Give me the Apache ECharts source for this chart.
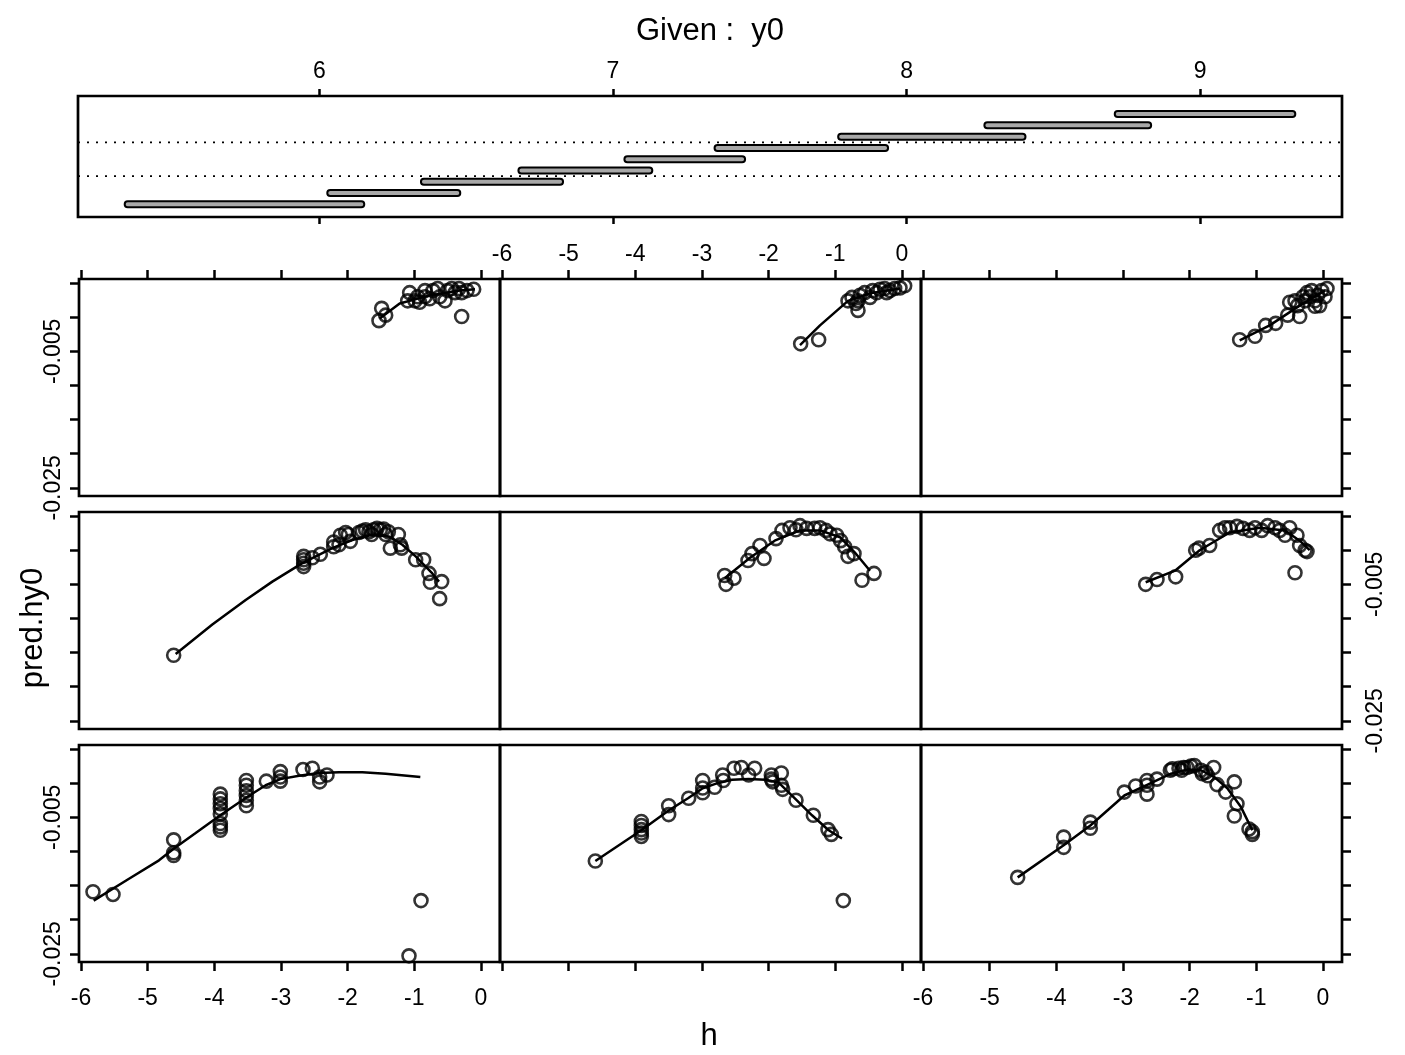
<!DOCTYPE html>
<html>
<head>
<meta charset="utf-8">
<script src="https://cdn.jsdelivr.net/npm/echarts@6/dist/echarts.min.js"></script>
<style>
html,body{margin:0;padding:0;background:#fff;}
#chart{width:1405px;height:1055px;}
</style>
</head>
<body>
<div id="chart"></div>
<script>
// ---- data ----
const givenIntervals = [[5.337,6.153],[6.027,6.480],[6.346,6.830],[6.678,7.134],[7.039,7.450],[7.346,7.937],[7.767,8.405],[8.265,8.833],[8.709,9.324]];
const givenTicks = [6,7,8,9];
const xTicks = [-6,-5,-4,-3,-2,-1,0];
const yTicks = [0.005,0,-0.005,-0.01,-0.015,-0.02,-0.025];
const yLabelValues = [-0.005,-0.025];

const p1H = [-5.82,-5.52,-4.61,-4.61,-4.61,-3.91,-3.91,-3.91,-3.91,-3.91,-3.91,-3.91,-3.91,-3.52,-3.52,-3.52,-3.52,-3.52,-3.52,-3.22,-3.01,-3.01,-3.01,-2.67,-2.53,-2.42,-2.42,-2.31,-0.90,-1.08];
const p1Y = [-0.0159,-0.0163,-0.0083,-0.0102,-0.0106,-0.0016,-0.0023,-0.0030,-0.0037,-0.0045,-0.0059,-0.0064,-0.0069,0.0004,-0.0003,-0.0011,-0.0018,-0.0025,-0.0033,0.0003,0.0017,0.0009,0.0003,0.0020,0.0022,0.0009,0.0002,0.0012,-0.0172,-0.0253];
const fit1H = [-5.81,-5.28,-4.83,-4.61,-4.28,-3.91,-3.52,-3.23,-3.01,-2.73,-2.43,-2.13,-1.78,-1.43,-0.91];
const fit1Y = [-0.0172,-0.0140,-0.0113,-0.0096,-0.0073,-0.0047,-0.0021,-0.0003,0.0006,0.0011,0.0015,0.0016,0.0016,0.0014,0.0009];

const p2H = [-4.60,-3.91,-3.91,-3.91,-3.91,-3.91,-3.50,-3.50,-3.20,-2.99,-2.99,-2.99,-2.81,-2.69,-2.68,-2.52,-2.41,-2.30,-2.21,-1.96,-1.96,-1.94,-1.81,-1.81,-1.79,-1.59,-1.33,-1.11,-1.06,-0.88];
const p2Y = [-0.0114,-0.0056,-0.0062,-0.0068,-0.0073,-0.0078,-0.0033,-0.0046,-0.0022,0.0004,-0.0007,-0.0014,-0.0006,0.0012,0.0004,0.0022,0.0023,0.0012,0.0022,0.0012,0.0006,0.0002,0.0015,-0.0003,-0.0009,-0.0025,-0.0047,-0.0068,-0.0075,-0.0172];
const fit2H = [-4.60,-3.91,-3.50,-3.21,-3.00,-2.80,-2.55,-2.30,-2.05,-1.85,-1.60,-1.35,-1.10,-0.90];
const fit2Y = [-0.0114,-0.0069,-0.0040,-0.0022,-0.0008,-0.0001,0.0005,0.0006,0.0005,0.0001,-0.0023,-0.0047,-0.0069,-0.0081];

const p3H = [-4.58,-3.89,-3.89,-3.49,-3.49,-2.98,-2.81,-2.64,-2.64,-2.64,-2.49,-2.29,-2.26,-2.16,-2.12,-2.09,-2.04,-1.98,-1.93,-1.83,-1.81,-1.76,-1.73,-1.64,-1.59,-1.46,-1.33,-1.29,-1.33,-1.11,-1.06,-1.06];
const p3Y = [-0.0138,-0.0079,-0.0094,-0.0057,-0.0066,-0.0013,-0.0004,0.0004,-0.0003,-0.0016,0.0006,0.0019,0.0021,0.0022,0.0019,0.0023,0.0023,0.0025,0.0026,0.0019,0.0014,0.0016,0.0011,0.0023,-0.0002,-0.0013,0.0002,-0.0030,-0.0048,-0.0067,-0.0071,-0.0075];
const fit3H = [-4.58,-3.89,-3.49,-2.98,-2.63,-2.28,-2.03,-1.83,-1.63,-1.43,-1.23,-1.06];
const fit3Y = [-0.0138,-0.0091,-0.0062,-0.0018,-0.0002,0.0014,0.0020,0.0019,0.0009,-0.0008,-0.0035,-0.0069];

const p4H = [-4.61,-2.66,-2.66,-2.66,-2.66,-2.53,-2.41,-2.21,-2.21,-2.13,-2.11,-2.03,-1.99,-1.96,-1.83,-1.78,-1.73,-1.68,-1.64,-1.61,-1.56,-1.51,-1.46,-1.43,-1.39,-1.36,-1.24,-1.21,-1.19,-0.98,-0.86,-0.78,-0.76,-0.59,-0.62];
const p4Y = [-0.0154,-0.0009,-0.0014,-0.0019,-0.0024,-0.0011,-0.0006,0.0012,0.0005,0.0008,0.0022,0.0026,0.0023,0.0013,0.0026,0.0028,0.0030,0.0027,0.0023,0.0030,0.0032,0.0030,0.0031,0.0023,0.0027,0.0003,0.0023,0.0008,0.0003,-0.0014,-0.0014,-0.0034,-0.0047,-0.0046,-0.0071];
const fit4H = [-4.58,-4.03,-3.53,-3.13,-2.68,-2.23,-1.93,-1.63,-1.38,-1.18,-0.98,-0.73,-0.63];
const fit4Y = [-0.0152,-0.0109,-0.0073,-0.0046,-0.0019,0.0003,0.0015,0.0023,0.0020,0.0008,-0.0009,-0.0034,-0.0046];

const p5H = [-2.66,-2.64,-2.52,-2.31,-2.25,-2.13,-2.07,-1.89,-1.80,-1.68,-1.59,-1.53,-1.43,-1.31,-1.23,-1.14,-1.08,-0.98,-0.92,-0.86,-0.81,-0.72,-0.60,-0.42];
const p5Y = [-0.0037,-0.0050,-0.0041,-0.0015,-0.0005,0.0007,-0.0012,0.0017,0.0029,0.0033,0.0030,0.0036,0.0032,0.0032,0.0033,0.0029,0.0024,0.0022,0.0014,0.0005,-0.0009,-0.0005,-0.0044,-0.0034];
const fit5H = [-2.66,-2.28,-1.91,-1.53,-1.23,-0.93,-0.71,-0.48];
const fit5Y = [-0.0041,-0.0011,0.0014,0.0029,0.0029,0.0019,-0.0003,-0.0030];

const p6H = [-2.66,-2.49,-2.21,-1.91,-1.86,-1.70,-1.55,-1.47,-1.40,-1.29,-1.20,-1.10,-1.02,-0.92,-0.83,-0.72,-0.65,-0.57,-0.50,-0.39,-0.35,-0.27,-0.24,-0.42];
const p6Y = [-0.0050,-0.0043,-0.0039,0.0000,0.0003,0.0007,0.0029,0.0033,0.0033,0.0035,0.0032,0.0029,0.0033,0.0029,0.0036,0.0033,0.0029,0.0022,0.0033,0.0022,0.0007,0.0000,-0.0002,-0.0033];
const fit6H = [-2.66,-2.22,-1.85,-1.40,-0.95,-0.57,-0.35,-0.20];
const fit6Y = [-0.0047,-0.0030,0.0000,0.0026,0.0033,0.0029,0.0014,0.0000];

const p7H = [-1.53,-1.49,-1.43,-1.10,-1.07,-0.99,-0.92,-0.84,-0.77,-0.72,-0.65,-0.62,-0.54,-0.50,-0.44,-0.39,-0.33,-0.29,-0.21,-0.11,-0.29,-0.84,-0.95];
const p7Y = [-0.0005,0.0013,0.0003,0.0024,0.0036,0.0024,0.0022,0.0039,0.0027,0.0039,0.0042,0.0030,0.0024,0.0039,0.0042,0.0036,0.0042,0.0036,0.0039,0.0041,0.0001,0.0030,0.0030];
const fit7H = [-1.52,-1.22,-0.77,-0.32,-0.09];
const fit7Y = [-0.0002,0.0020,0.0032,0.0039,0.0041];

const p8H = [-1.52,-1.25,-0.81,-0.75,-0.69,-0.66,-0.63,-0.56,-0.48,-0.44,-0.38,-0.33,-0.26,-0.23,-0.18,-0.11,-0.03,0.04,-0.66];
const p8Y = [-0.0039,-0.0033,0.0024,0.0029,0.0020,0.0010,0.0032,0.0036,0.0029,0.0039,0.0036,0.0041,0.0042,0.0036,0.0039,0.0042,0.0043,0.0046,0.0024];
const fit8H = [-1.53,-1.23,-0.81,-0.48,-0.03];
const fit8Y = [-0.0041,-0.0012,0.0024,0.0035,0.0042];

const p9H = [-1.25,-1.02,-0.86,-0.71,-0.53,-0.50,-0.42,-0.38,-0.35,-0.30,-0.27,-0.24,-0.20,-0.17,-0.12,-0.08,-0.05,-0.02,0.03,0.06,-0.12];
const p9Y = [-0.0033,-0.0028,-0.0012,-0.0009,0.0003,0.0022,0.0024,0.0017,0.0001,0.0030,0.0024,0.0036,0.0030,0.0039,0.0024,0.0032,0.0017,0.0039,0.0030,0.0042,0.0016];
const fit9H = [-1.25,-0.80,-0.35,0.03];
const fit9Y = [-0.0034,-0.0012,0.0017,0.0039];

const panelH = [p1H,p2H,p3H,p4H,p5H,p6H,p7H,p8H,p9H];
const panelY = [p1Y,p2Y,p3Y,p4Y,p5Y,p6Y,p7Y,p8Y,p9Y];
const fitH = [fit1H,fit2H,fit3H,fit4H,fit5H,fit6H,fit7H,fit8H,fit9H];
const fitY = [fit1Y,fit2Y,fit3Y,fit4Y,fit5Y,fit6Y,fit7Y,fit8Y,fit9Y];

// ---- layout / style ----
const FONT = "'Liberation Sans', Arial, Helvetica, sans-serif";
const TICKFS = 23;
const X_MIN = -6.03, X_MAX = 0.285;
const Y_MIN = -0.0262, Y_MAX = 0.0056;
const G_MIN = 5.178, G_MAX = 9.483;
const colLeft = [79, 500, 921];
const rowTop = [745, 512, 279]; // row 0 = bottom
const PW = 421, PH = 217;
const tickStyle = {color:'#000', width:2.5};
const noLine = {show:false, onZero:false};
const BORDER = 2.7;

const grid = [{left:78, top:96, width:1264, height:121, show:true, borderColor:'#000', borderWidth:BORDER, backgroundColor:'transparent'}];
const xAxis = [
  {type:'value', gridIndex:0, min:G_MIN, max:G_MAX, position:'top',
   axisLine:noLine, splitLine:{show:false},
   axisTick:{show:true, length:7, customValues:givenTicks, lineStyle:tickStyle},
   axisLabel:{show:true, customValues:givenTicks, margin:13, fontSize:TICKFS, color:'#000', fontFamily:FONT}},
  {type:'value', gridIndex:0, min:G_MIN, max:G_MAX, position:'bottom',
   axisLine:noLine, splitLine:{show:false},
   axisTick:{show:true, length:7, customValues:givenTicks, lineStyle:tickStyle},
   axisLabel:{show:false}}
];
const yAxis = [{type:'value', gridIndex:0, min:-0.12, max:10.6, show:false}];
const series = [];

series.push({
  type:'custom', xAxisIndex:0, yAxisIndex:0, silent:true,
  encode:{x:[0,1], y:2},
  data: givenIntervals.map((d,k)=>[d[0], d[1], k+1]),
  renderItem:function(params, api){
    const a = api.coord([api.value(0), api.value(2)]);
    const b = api.coord([api.value(1), api.value(2)]);
    return {type:'rect', shape:{x:a[0], y:a[1]-3, width:b[0]-a[0], height:6, r:3},
            style:{fill:'#a8a8a8', stroke:'#000', lineWidth:2}};
  }
});
[3.5, 6.5].forEach(lv => {
  series.push({type:'line', xAxisIndex:0, yAxisIndex:0, silent:true, showSymbol:false,
    data:[[G_MIN, lv],[G_MAX, lv]], lineStyle:{color:'#000', width:1.8, type:[2,7]}});
});

for (let i = 0; i < 9; i++) {
  const row = Math.floor(i/3), col = i % 3;
  grid.push({left:colLeft[col], top:rowTop[row], width:PW, height:PH, show:true,
             borderColor:'#000', borderWidth:BORDER, backgroundColor:'transparent'});
  const g = i + 1;
  const showXTicks = row !== 1;
  const showXLabels = (row === 0 && col !== 1) || (row === 2 && col === 1);
  xAxis.push({type:'value', gridIndex:g, min:X_MIN, max:X_MAX, position: row === 2 ? 'top' : 'bottom',
    axisLine:noLine, splitLine:{show:false},
    axisTick:{show:showXTicks, length:9, customValues:xTicks, lineStyle:tickStyle},
    axisLabel:{show:showXLabels, customValues:xTicks, margin: row === 2 ? 13 : 25,
               fontSize:TICKFS, color:'#000', fontFamily:FONT}});
  const showYTicks = col !== 1;
  const showYLabels = (col === 0 && row !== 1) || (col === 2 && row === 1);
  yAxis.push({type:'value', gridIndex:g, min:Y_MIN, max:Y_MAX, position: col === 2 ? 'right' : 'left',
    axisLine:noLine, splitLine:{show:false},
    axisTick:{show:showYTicks, length:9, customValues:yTicks, lineStyle:tickStyle},
    axisLabel:{show:showYLabels, customValues:yLabelValues, rotate:90, margin: col === 2 ? 22 : 14,
               fontSize:TICKFS, color:'#000', fontFamily:FONT,
               formatter: v => Number(v).toFixed(3)}});
  series.push({type:'line', xAxisIndex:g+1, yAxisIndex:g, silent:true, showSymbol:false,
    data: fitH[i].map((h,k)=>[h, fitY[i][k]]), lineStyle:{color:'#000', width:2.5}});
  series.push({type:'scatter', xAxisIndex:g+1, yAxisIndex:g, silent:true,
    data: panelH[i].map((h,k)=>[h, panelY[i][k]]), symbol:'circle', symbolSize:13,
    itemStyle:{color:'rgba(0,0,0,0)', borderColor:'#000', borderWidth:2.6}});
}

const chart = echarts.init(document.getElementById('chart'), null, {renderer:'canvas'});
chart.setOption({
  animation:false,
  backgroundColor:'#fff',
  grid, xAxis, yAxis, series,
  graphic:[
    {type:'text', x:710, y:31,
     style:{text:'Given :  y0', fontSize:31, fontFamily:FONT, fill:'#000', textAlign:'center', textVerticalAlign:'middle'}},
    {type:'text', x:33, y:628, rotation:Math.PI/2,
     style:{text:'pred.hy0', fontSize:31, fontFamily:FONT, fill:'#000', textAlign:'center', textVerticalAlign:'middle'}},
    {type:'text', x:709, y:1036,
     style:{text:'h', fontSize:31, fontFamily:FONT, fill:'#000', textAlign:'center', textVerticalAlign:'middle'}}
  ]
});
</script>
</body>
</html>
